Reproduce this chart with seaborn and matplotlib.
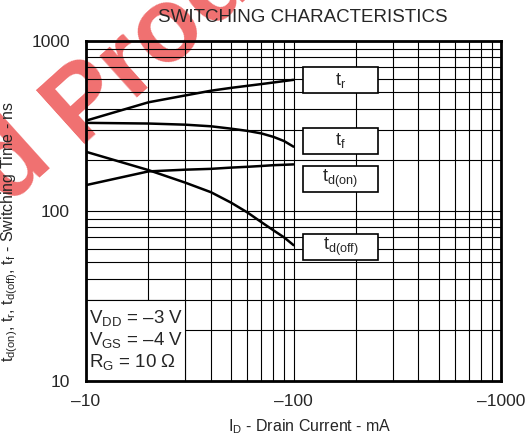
import numpy as np
import pandas as pd
import matplotlib
matplotlib.use("Agg")
import matplotlib.pyplot as plt
import seaborn as sns
from matplotlib.patches import Rectangle
from matplotlib.ticker import FixedLocator, FixedFormatter, NullFormatter

# drain current magnitude (mA), plotted as -I_D
drain_current = [10, 20, 30, 40, 50, 60, 70, 80, 90, 100]
t_r = [340, 436, 478, 510, 530, 545, 558, 570, 581, 591]
t_f = [330, 327, 322, 315, 305, 296, 286, 273, 258, 239]
t_d_on = [142, 171, 175, 177, 180, 182, 184, 186, 187, 188]
t_d_off = [223, 174, 147, 129, 112, 98, 86, 77, 70, 63]

x_ticks = [10, 100, 1000]
x_ticklabels = ["\u201310", "\u2013100", "\u20131000"]
y_ticks = [10, 100, 1000]
y_ticklabels = ["10", "100", "1000"]

series_names = ["tr", "tf", "td(on)", "td(off)"]
box_labels = [r"$\mathregular{t_r}$", r"$\mathregular{t_f}$",
              r"$\mathregular{t_{d(on)}}$", r"$\mathregular{t_{d(off)}}$"]
conditions = "V$_{\\mathregular{DD}}$ = \u20133 V\nV$_{\\mathregular{GS}}$ = \u20134 V\nR$_{\\mathregular{G}}$ = 10 \u03a9"

df = pd.DataFrame({
    "I_D": drain_current * 4,
    "t": t_r + t_f + t_d_on + t_d_off,
    "curve": sum([[n] * len(drain_current) for n in series_names], []),
})

sns.set_style("white")
plt.rcParams["font.family"] = ["Liberation Sans", "DejaVu Sans"]
plt.rcParams["mathtext.fontset"] = "custom"
plt.rcParams["mathtext.rm"] = "Liberation Sans"

fig = plt.figure(figsize=(5.3, 4.38), dpi=100)
ax = fig.add_axes([0.1623, 0.1301, 0.783, 0.7763])
ax.set_zorder(1)
ax.patch.set_alpha(0)

# watermark behind the chart
wm = dict(rotation=42, rotation_mode="anchor", va="baseline", fontsize=76,
          fontweight="bold", color="#f07070", zorder=0)
fig.text(0.147, 0.671, "Product", ha="left", **wm)
fig.text(0.147, 0.671, "Discontinued ", ha="right", **wm)

sns.lineplot(data=df, x="I_D", y="t", units="curve", estimator=None,
             color="black", linewidth=1.8, ax=ax, zorder=3)

ax.set_xscale("log")
ax.set_yscale("log")
ax.set_xlim(10, 1000)
ax.set_ylim(10, 1000)

ax.xaxis.set_major_locator(FixedLocator(x_ticks))
ax.xaxis.set_major_formatter(FixedFormatter(x_ticklabels))
ax.xaxis.set_minor_formatter(NullFormatter())
ax.yaxis.set_major_locator(FixedLocator(y_ticks))
ax.yaxis.set_major_formatter(FixedFormatter(y_ticklabels))
ax.yaxis.set_minor_formatter(NullFormatter())
ax.tick_params(which="both", length=0, labelsize=12.5)
ax.tick_params(axis="x", pad=9)
ax.tick_params(axis="y", pad=11.5)
ax.grid(which="both", color="black", linewidth=0.8)
for s in ax.spines.values():
    s.set_linewidth(2)
    s.set_color("black")
    s.set_zorder(5)

ax.set_title("SWITCHING CHARACTERISTICS", fontsize=13.5, x=0.523, pad=14)
ax.set_xlabel("I$_{\\mathregular{D}}$ - Drain Current - mA", fontsize=11.5,
              labelpad=6, x=0.54)
ax.set_ylabel("t$_{\\mathregular{d(on)}}$, t$_{\\mathregular{r}}$, t$_{\\mathregular{d(off)}}$, "
              "t$_{\\mathregular{f}}$ - Switching Time - ns", fontsize=11.5,
              labelpad=8, y=0.44)

# label boxes for each curve (axes fraction)
box_y = [0.847, 0.668, 0.556, 0.355]
for lab, y0 in zip(box_labels, box_y):
    ax.add_patch(Rectangle((0.523, y0), 0.180, 0.076, transform=ax.transAxes,
                           facecolor="white", edgecolor="black", linewidth=1.2, zorder=4))
    ax.text(0.613, y0 + 0.038, lab, transform=ax.transAxes, ha="center",
            va="center", fontsize=13, zorder=6)

# test-condition box in the lower-left corner
ax.add_patch(Rectangle((10, 10), 20, 20, facecolor="white", edgecolor="black",
                       linewidth=0.8, zorder=4))
ax.text(0.006, 0.118, conditions, transform=ax.transAxes, ha="left", va="center",
        fontsize=13.5, linespacing=1.1, zorder=6)

fig.savefig("out.png", dpi=100)
